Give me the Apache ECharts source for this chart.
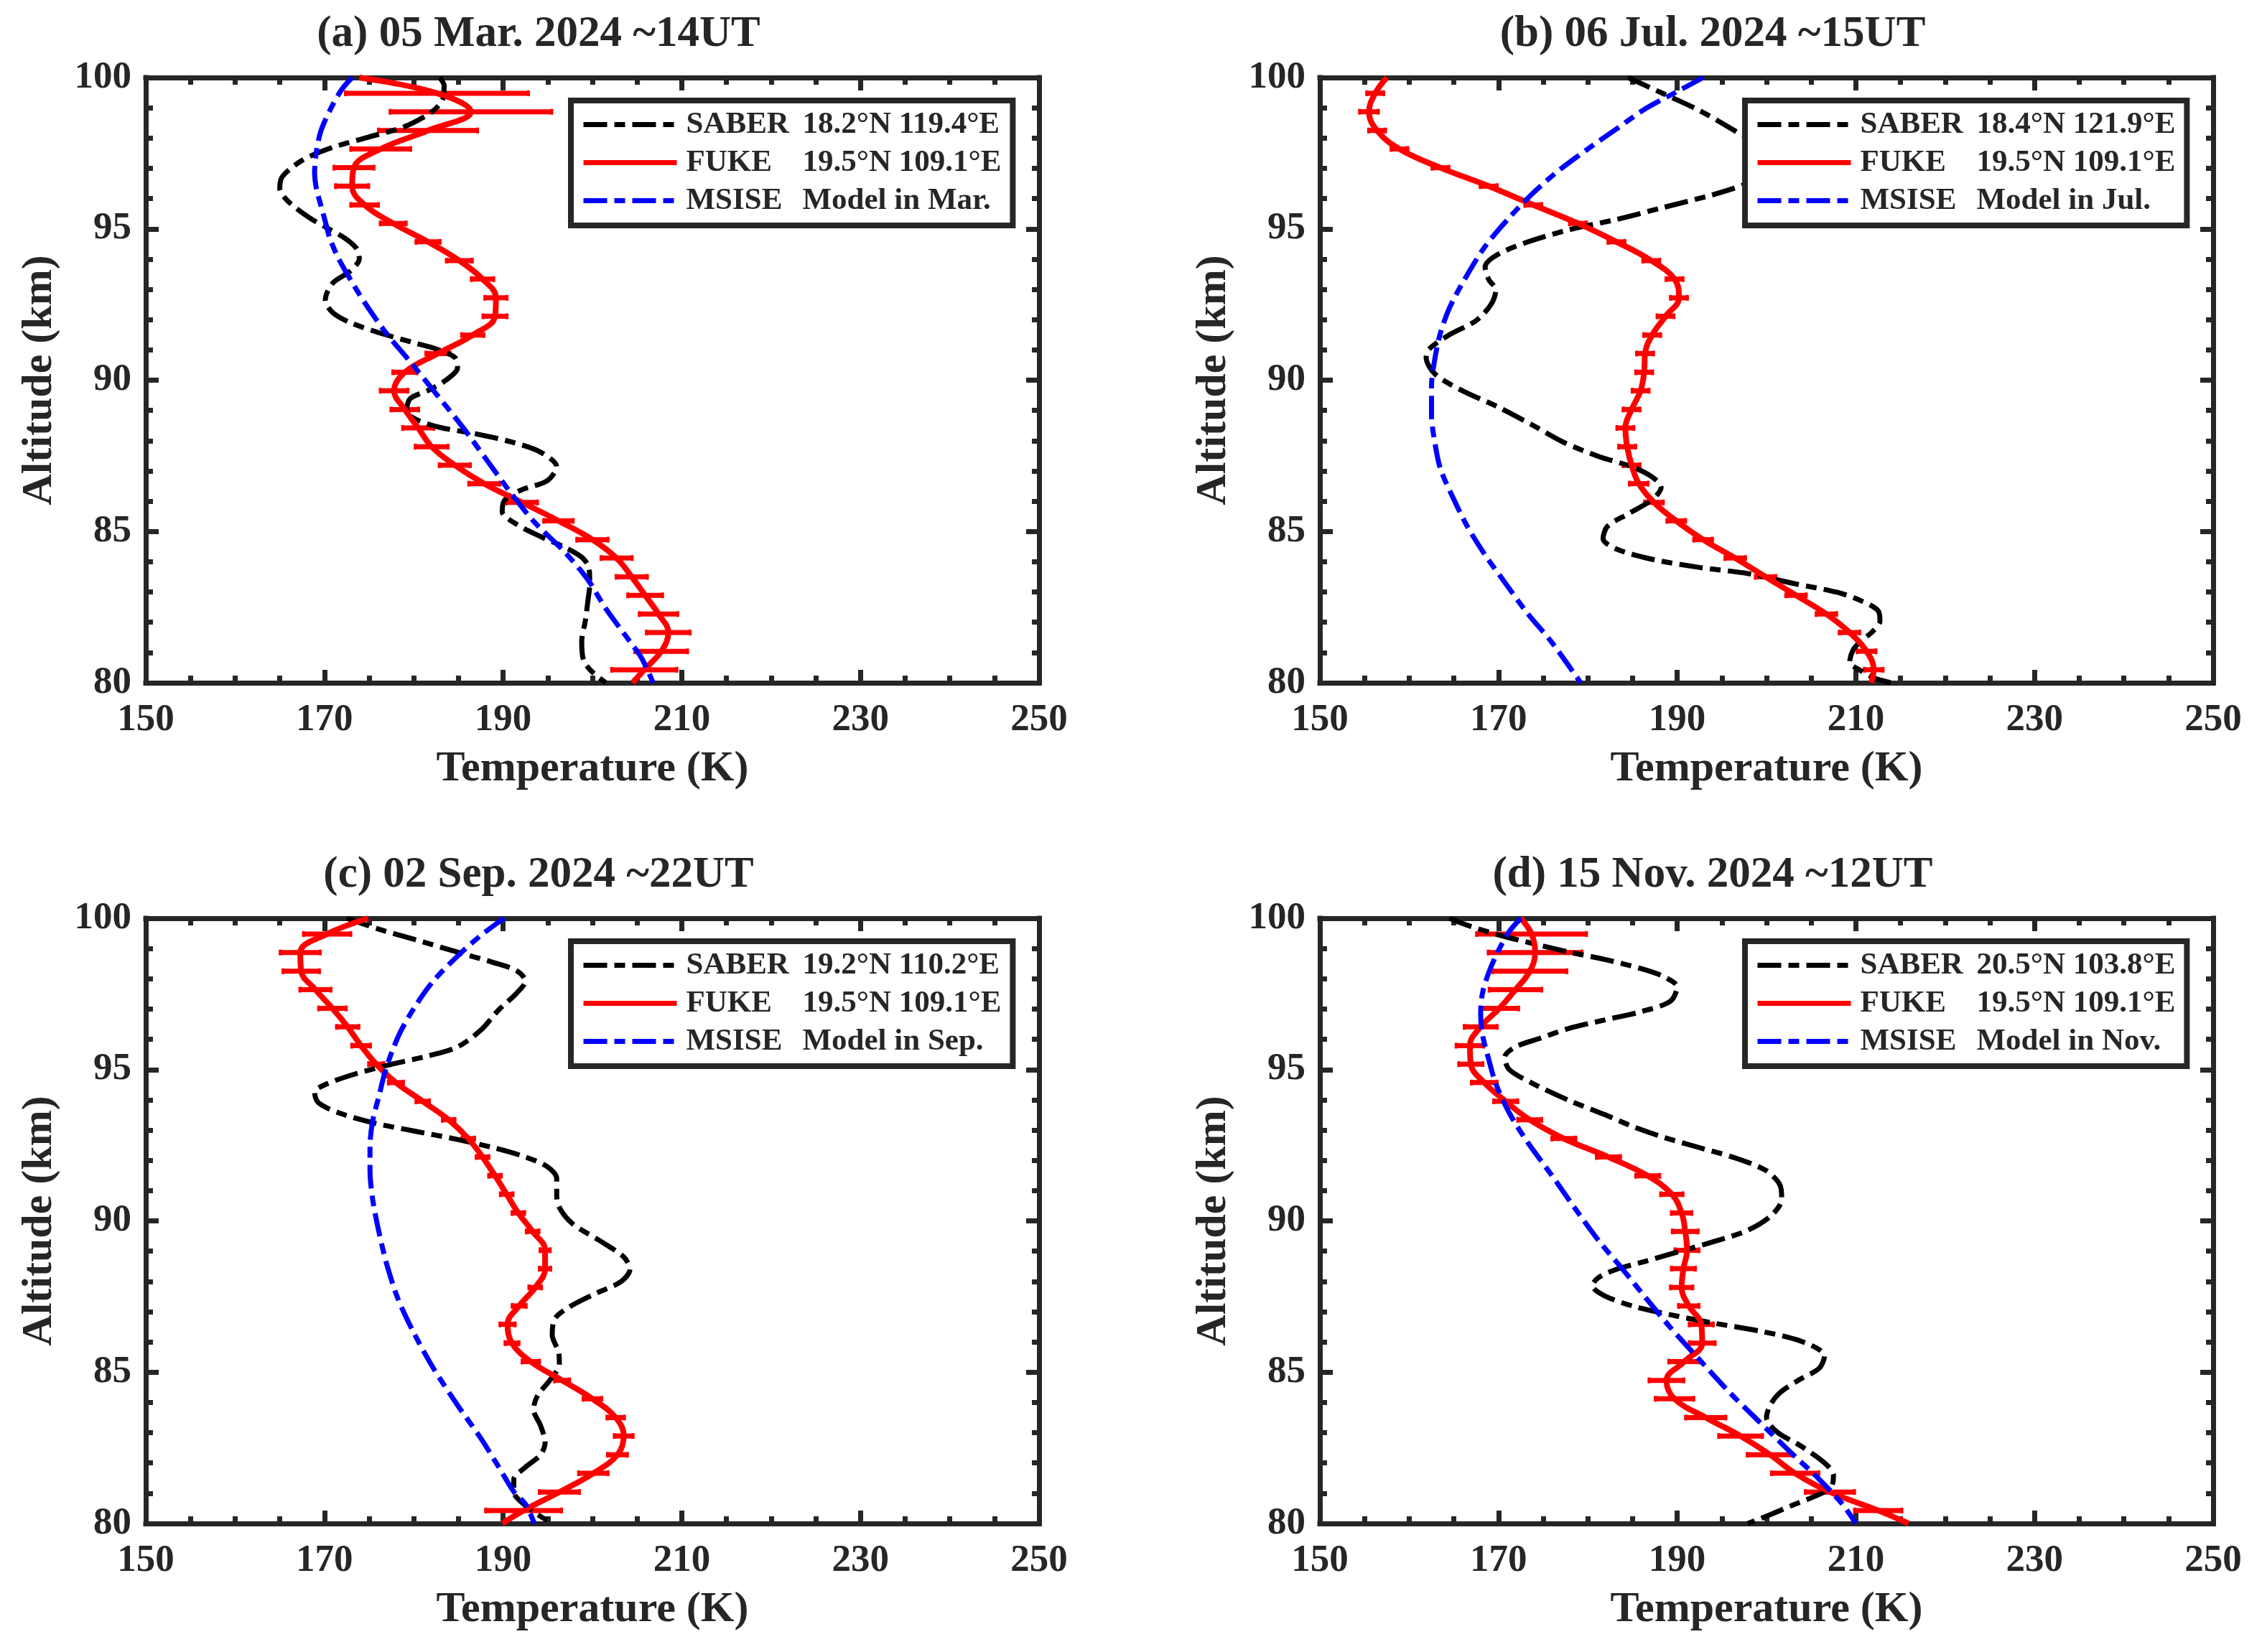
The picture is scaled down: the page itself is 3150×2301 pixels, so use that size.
<!DOCTYPE html>
<html><head><meta charset="utf-8">
<script src="https://cdn.jsdelivr.net/npm/echarts@6/dist/echarts.min.js"></script>
<style>html,body{margin:0;padding:0;background:#fff}#c{width:3150px;height:2301px}</style>
</head><body><div id="c"></div>
<script>
// ---------- data ----------
const X_TICKS = [150, 170, 190, 210, 230, 250];
const Y_TICKS = [80, 85, 90, 95, 100];
const TITLES = ['(a) 05 Mar. 2024 ~14UT', '(b) 06 Jul. 2024 ~15UT', '(c) 02 Sep. 2024 ~22UT', '(d) 15 Nov. 2024 ~12UT'];
const SABER_LOC = ['18.2°N 119.4°E', '18.4°N 121.9°E', '19.2°N 110.2°E', '20.5°N 103.8°E'];
const FUKE_LOC = '19.5°N 109.1°E';
const MSISE_MONTH = ['Mar.', 'Jul.', 'Sep.', 'Nov.'];

// FUKE lidar retrieval altitudes (km), bottom -> top
const FUKE_ALT = [80.43, 81.04, 81.66, 82.27, 82.89, 83.50, 84.12, 84.73, 85.35, 85.96, 86.58, 87.19, 87.80, 88.42, 89.03, 89.65,
  90.26, 90.88, 91.49, 92.11, 92.72, 93.34, 93.95, 94.57, 95.18, 95.79, 96.41, 97.02, 97.64, 98.25, 98.87, 99.48];
// FUKE temperatures (K), bottom -> top
const FUKE_T_A = [205.8, 207.7, 208.5, 207.4, 205.9, 204.4, 202.7, 200.0, 196.2, 192.1, 187.9, 184.6, 182.0, 180.5, 179.0, 177.8,
  179.0, 182.7, 186.6, 189.1, 189.2, 187.7, 185.1, 181.6, 177.7, 174.5, 173.1, 173.3, 176.3, 181.6, 186.4, 182.6];
const FUKE_T_B = [212.0, 211.2, 209.3, 206.7, 203.3, 199.9, 196.5, 192.9, 189.9, 187.4, 185.7, 184.9, 184.4, 184.2, 184.9, 185.9,
  186.3, 186.4, 187.2, 188.7, 190.2, 189.7, 187.1, 183.2, 178.9, 173.9, 168.9, 163.5, 158.9, 156.4, 155.5, 156.2];
const FUKE_T_C = [192.3, 196.3, 200.1, 202.8, 203.5, 202.6, 200.0, 196.6, 193.1, 191.0, 190.5, 191.8, 193.6, 194.7, 194.7, 193.3,
  191.7, 190.4, 189.1, 187.7, 186.1, 183.9, 181.0, 178.0, 175.8, 174.1, 172.6, 170.9, 169.0, 167.4, 167.3, 170.3];
const FUKE_T_D = [212.5, 207.1, 203.2, 200.4, 197.1, 193.2, 189.7, 188.8, 190.8, 192.8, 192.7, 191.3, 190.5, 190.7, 191.1, 190.9,
  190.5, 189.4, 186.7, 182.3, 177.3, 173.5, 170.8, 168.4, 166.9, 166.8, 168.0, 170.1, 171.9, 173.5, 174.1, 173.7];
// FUKE temperature errors (K), bottom -> top
const FUKE_E_A = [3.8, 3.1, 2.6, 2.3, 2.1, 1.9, 1.9, 1.9, 1.8, 1.9, 1.9, 1.9, 2.0, 1.9, 1.7, 1.7,
  1.5, 1.5, 1.4, 1.5, 1.4, 1.4, 1.6, 1.5, 1.6, 1.7, 2.0, 2.4, 3.5, 5.7, 9.2, 10.4];
const FUKE_E_B = [1.2, 1.2, 1.3, 1.3, 1.3, 1.3, 1.3, 1.2, 1.2, 1.2, 1.2, 1.1, 1.1, 1.1, 1.1, 1.1,
  1.1, 1.1, 1.1, 1.1, 1.1, 1.1, 1.1, 1.1, 1.1, 1.1, 1.1, 1.1, 1.1, 1.1, 1.2, 1.1];
const FUKE_E_C = [4.4, 2.4, 1.8, 1.26, 1.2, 1.13, 1.2, 1.0, 1.13, 0.93, 1.0, 0.93, 0.86, 0.8, 0.73, 0.86,
  0.86, 0.86, 0.86, 0.86, 0.86, 0.86, 0.9, 1.0, 1.0, 1.2, 1.4, 1.7, 1.9, 2.2, 2.4, 2.8];
const FUKE_E_D = [2.8, 2.9, 2.8, 2.7, 2.6, 2.4, 2.3, 2.1, 1.9, 1.6, 1.5, 1.3, 1.4, 1.5, 1.5, 1.6,
  1.3, 1.4, 1.5, 1.5, 1.5, 1.5, 1.5, 1.6, 1.5, 1.7, 2.0, 2.3, 3.1, 4.3, 5.4, 6.3];
// FUKE curve values at the plot edges [T at 80 km, T at 100 km]
const FUKE_EDGE = [[204.5, 173.9], [211.7, 157.5], [189.9, 174.9], [215.9, 172.5]];

// SABER profiles [T (K), altitude (km)], top -> bottom
const SABER_A = [[182.9,100.0],[183.4,99.73],[183.2,99.25],[181.9,98.84],[178.9,98.37],[174.9,98.03],[170.9,97.69],[167.6,97.28],[165.3,96.73],[165.0,96.33],[165.9,95.92],[168.3,95.37],[170.3,95.03],[172.3,94.69],[173.6,94.35],[173.9,94.01],[172.9,93.61],[170.9,93.20],[170.1,92.65],[170.9,92.24],[172.9,91.90],[176.2,91.56],[180.2,91.22],[182.6,91.02],[184.6,90.75],[184.9,90.41],[183.6,90.0],[181.6,89.66],[179.6,89.39],[179.2,88.98],[180.2,88.71],[182.9,88.44],[186.9,88.23],[190.9,87.96],[194.2,87.62],[196.0,87.14],[194.9,86.67],[192.2,86.39],[190.2,86.05],[189.9,85.65],[191.5,85.24],[194.2,84.83],[196.8,84.49],[198.8,84.15],[199.6,83.81],[199.7,83.27],[199.5,82.72],[199.2,82.04],[198.8,81.36],[199.0,80.75],[199.8,80.41],[201.5,80.0]];
const SABER_B = [[184.5,100],[188.5,99.46],[192.5,98.91],[196.5,98.23],[202.5,97.1],[197.5,96.46],[193.9,96.12],[188.5,95.71],[183.2,95.31],[177.9,94.97],[173.2,94.56],[169.9,94.15],[168.5,93.74],[168.9,93.33],[169.7,92.99],[169.2,92.52],[167.5,91.97],[164.5,91.5],[162.2,91.02],[161.9,90.75],[162.9,90.2],[165.9,89.66],[169.9,89.12],[173.9,88.5],[177.2,87.96],[181.2,87.48],[184.9,87.14],[187.2,86.8],[188.2,86.46],[187.2,86.05],[184.5,85.58],[182.2,85.17],[181.7,84.76],[183.2,84.42],[187.2,84.08],[192.5,83.81],[197.9,83.61],[203.2,83.27],[207.9,82.99],[210.5,82.72],[212.5,82.38],[212.7,82.04],[211.9,81.7],[210.5,81.36],[209.7,81.09],[209.3,80.68],[210.5,80.41],[212.2,80.14],[213.9,80.0]];
const SABER_C = [[172.5,100],[176.2,99.63],[180.2,99.29],[184.9,98.88],[188.9,98.54],[191.5,98.27],[192.5,97.93],[191.5,97.52],[189.5,96.97],[187.5,96.3],[184.9,95.75],[181.6,95.45],[177.6,95.18],[173.6,94.87],[170.3,94.53],[168.9,94.25],[169.3,93.91],[171.6,93.57],[175.6,93.23],[180.2,92.96],[184.9,92.69],[188.9,92.42],[192.2,92.14],[194.9,91.8],[196.0,91.4],[196.0,90.85],[196.3,90.44],[197.8,89.9],[200.8,89.35],[203.5,88.81],[204.2,88.4],[203.2,87.99],[200.2,87.58],[197.5,87.17],[195.8,86.77],[195.5,86.22],[196.2,85.68],[196.3,85.27],[195.2,84.72],[193.9,84.25],[193.4,83.77],[194.2,83.23],[194.7,82.68],[194.2,82.27],[192.5,81.86],[191.2,81.46],[191.2,81.05],[192.9,80.5],[195.5,80.0]];
const SABER_D = [[164.5,100],[166.5,99.77],[169.9,99.46],[173.9,99.16],[177.9,98.88],[181.9,98.64],[185.9,98.34],[188.5,98.07],[190.0,97.73],[189.2,97.25],[185.9,96.91],[181.9,96.64],[177.9,96.36],[174.5,96.02],[171.9,95.75],[170.7,95.41],[171.2,95.0],[173.9,94.53],[177.9,93.98],[181.9,93.51],[185.2,93.1],[188.5,92.76],[192.5,92.42],[196.5,92.08],[199.9,91.67],[201.5,91.19],[201.7,90.71],[200.5,90.17],[197.9,89.69],[194.5,89.35],[190.5,89.01],[186.5,88.67],[183.2,88.4],[181.2,88.13],[180.5,87.86],[181.9,87.52],[185.2,87.17],[189.2,86.9],[193.9,86.63],[199.2,86.36],[203.9,86.02],[206.5,85.54],[205.9,85.13],[203.5,84.72],[201.5,84.32],[200.4,83.91],[200.0,83.5],[201.2,83.02],[203.9,82.55],[206.5,82.0],[207.5,81.59],[207.2,81.18],[205.5,80.91],[203.2,80.64],[200.5,80.3],[197.9,80.0]];

// MSISE model profiles [T (K), altitude (km)], top -> bottom
const MSISE_A = [[173.1,100],[171.9,99.59],[170.6,98.91],[169.6,98.23],[169.1,97.55],[168.9,96.87],[169.1,96.33],[169.6,95.78],[170.1,95.24],[170.6,94.69],[171.6,94.01],[172.9,93.33],[174.6,92.52],[176.9,91.56],[179.6,90.61],[182.2,89.66],[185.5,88.44],[188.2,87.35],[190.9,86.26],[193.5,85.31],[196.8,84.35],[198.8,83.67],[199.8,83.27],[201.5,82.45],[204.2,81.36],[205.5,80.82],[206.8,80.0]];
const MSISE_B = [[192.9,100],[189.9,99.52],[186.5,98.98],[183.2,98.3],[179.9,97.62],[176.5,96.87],[173.9,96.19],[171.2,95.37],[168.5,94.42],[166.2,93.33],[164.5,92.38],[163.5,91.56],[162.9,90.75],[162.5,89.8],[162.5,88.84],[162.9,87.89],[163.5,87.07],[164.9,86.12],[166.5,85.17],[168.5,84.22],[170.5,83.4],[173.2,82.31],[175.9,81.36],[179.2,80.0]];
const MSISE_C = [[190.1,100],[187.5,99.43],[184.9,98.75],[182.2,97.93],[180.2,97.11],[178.6,96.3],[177.6,95.62],[176.8,94.94],[176.1,94.12],[175.4,93.3],[175.1,92.48],[175.1,91.67],[175.4,90.71],[176.1,89.63],[177.0,88.54],[178.2,87.45],[179.9,86.36],[182.2,85.13],[184.9,83.91],[187.5,82.82],[189.5,81.87],[191.2,81.05],[192.5,80.64],[193.5,80.0]];
const MSISE_D = [[172.5,100],[171.2,99.56],[169.9,98.88],[168.9,98.2],[168.2,97.52],[168.0,96.84],[168.2,96.16],[168.9,95.34],[169.7,94.53],[171.2,93.57],[173.2,92.62],[175.9,91.53],[178.5,90.44],[181.2,89.35],[183.9,88.4],[186.5,87.45],[189.2,86.49],[192.5,85.41],[195.9,84.32],[199.2,83.36],[202.5,82.41],[205.9,81.46],[208.5,80.64],[210.0,80.0]];

// ---------- assembly ----------
const FUKE_T = [FUKE_T_A, FUKE_T_B, FUKE_T_C, FUKE_T_D];
const FUKE_E = [FUKE_E_A, FUKE_E_B, FUKE_E_C, FUKE_E_D];
const SABER = [SABER_A, SABER_B, SABER_C, SABER_D];
const MSISE = [MSISE_A, MSISE_B, MSISE_C, MSISE_D];

const FONT = 'Liberation Serif';
const AX = '#262626';
const GRID_POS = [[203, 108], [1838, 108], [203, 1279], [1838, 1279]];
const GW = 1244, GH = 843;
const DASH = [33, 10, 15, 10];

const grids = [], xAxes = [], yAxes = [], series = [], legends = [], titles = [];

function errItem(params, api) {
  const T = api.value(0), h = api.value(1), e = api.value(2);
  const a = api.coord([T - e, h]), b = api.coord([T + e, h]);
  const cap = 4;
  const st = { stroke: '#ff0000', lineWidth: 7 };
  return { type: 'group', children: [
    { type: 'line', shape: { x1: a[0], y1: a[1], x2: b[0], y2: b[1] }, style: st },
    { type: 'line', shape: { x1: a[0] + 2, y1: a[1] - cap, x2: a[0] + 2, y2: a[1] + cap }, style: { stroke: '#ff0000', lineWidth: 4 } },
    { type: 'line', shape: { x1: b[0] - 2, y1: b[1] - cap, x2: b[0] - 2, y2: b[1] + cap }, style: { stroke: '#ff0000', lineWidth: 4 } }
  ]};
}

const tickCommon = (len) => ({ show: true, inside: true, length: len, lineStyle: { color: AX, width: 7 } });

for (let i = 0; i < 4; i++) {
  const [gl, gt] = GRID_POS[i];
  grids.push({ left: gl, top: gt, width: GW, height: GH, containLabel: false });
  const xBase = {
    type: 'value', gridIndex: i, min: X_TICKS[0], max: X_TICKS[X_TICKS.length - 1], interval: X_TICKS[1] - X_TICKS[0],
    axisLine: { show: true, onZero: false, lineStyle: { color: AX, width: 7, cap: 'square' } },
    axisTick: tickCommon(18), minorTick: { show: true, splitNumber: 4, length: 10, lineStyle: { color: AX, width: 7 } },
    splitLine: { show: false }, minorSplitLine: { show: false }
  };
  xAxes.push(Object.assign({}, xBase, {
    position: 'bottom', name: 'Temperature (K)', nameLocation: 'middle', nameGap: 90,
    nameTextStyle: { fontFamily: FONT, fontWeight: 'bold', fontSize: 60, color: AX },
    axisLabel: { show: true, margin: 26, fontFamily: FONT, fontWeight: 'bold', fontSize: 53, color: AX }
  }));
  xAxes.push(Object.assign({}, xBase, { position: 'top', axisLabel: { show: false } }));
  const yBase = {
    type: 'value', gridIndex: i, min: Y_TICKS[0], max: Y_TICKS[Y_TICKS.length - 1], interval: Y_TICKS[1] - Y_TICKS[0],
    axisLine: { show: true, onZero: false, lineStyle: { color: AX, width: 7, cap: 'square' } },
    axisTick: tickCommon(18), minorTick: { show: true, splitNumber: 5, length: 10, lineStyle: { color: AX, width: 7 } },
    splitLine: { show: false }, minorSplitLine: { show: false }
  };
  yAxes.push(Object.assign({}, yBase, {
    position: 'left', name: 'Altitude (km)', nameLocation: 'middle', nameGap: 118, nameRotate: 90,
    nameTextStyle: { fontFamily: FONT, fontWeight: 'bold', fontSize: 60, color: AX },
    axisLabel: { show: true, margin: 20, fontFamily: FONT, fontWeight: 'bold', fontSize: 53, color: AX }
  }));
  yAxes.push(Object.assign({}, yBase, { position: 'right', axisLabel: { show: false } }));

  const xi = 2 * i, yi = 2 * i;
  series.push({
    name: 'S' + i, type: 'line', xAxisIndex: xi, yAxisIndex: yi, data: SABER[i],
    symbol: 'none', smooth: 0.3, clip: true,
    lineStyle: { color: '#000000', width: 7, type: DASH }, itemStyle: { color: '#000000' }
  });
  const fukeLine = [[FUKE_EDGE[i][0], 80]];
  for (let k = 0; k < FUKE_ALT.length; k++) fukeLine.push([FUKE_T[i][k], FUKE_ALT[k]]);
  fukeLine.push([FUKE_EDGE[i][1], 100]);
  series.push({
    name: 'F' + i, type: 'line', xAxisIndex: xi, yAxisIndex: yi, data: fukeLine,
    symbol: 'none', smooth: 0.4, clip: true,
    lineStyle: { color: '#ff0000', width: 8, type: 'solid' }, itemStyle: { color: '#ff0000' }
  });
  const errData = FUKE_ALT.map((h, k) => [FUKE_T[i][k], h, FUKE_E[i][k]]);
  series.push({
    name: 'E' + i, type: 'custom', xAxisIndex: xi, yAxisIndex: yi, data: errData,
    renderItem: errItem, encode: { x: 0, y: 1 }, clip: true, silent: true
  });
  series.push({
    name: 'M' + i, type: 'line', xAxisIndex: xi, yAxisIndex: yi, data: MSISE[i],
    symbol: 'none', smooth: 0.3, clip: true,
    lineStyle: { color: '#0000ff', width: 7, type: DASH }, itemStyle: { color: '#0000ff' }
  });

  const rich = {
    k: { width: 162, padding: [0, 0, 0, 8], fontFamily: FONT, fontWeight: 'bold', fontSize: 43, color: AX },
    v: { fontFamily: FONT, fontWeight: 'bold', fontSize: 43, color: AX }
  };
  legends.push({
    orient: 'vertical', left: gl + 592, top: gt + 32,
    data: ['S' + i, 'F' + i, 'M' + i], selectedMode: false,
    backgroundColor: '#ffffff', borderColor: AX, borderWidth: 8, borderRadius: 0,
    padding: [12, 16, 13, 14], itemGap: 10, itemWidth: 130, itemHeight: 16,
    itemStyle: { opacity: 0 }, lineStyle: { width: 7 },
    textStyle: { fontFamily: FONT, fontWeight: 'bold', fontSize: 43, color: AX, lineHeight: 40, rich: rich },
    formatter: function (name) {
      const t = name[0];
      if (t === 'S') return '{k|SABER}{v|' + SABER_LOC[i] + '}';
      if (t === 'F') return '{k|FUKE}{v|' + FUKE_LOC + '}';
      return '{k|MSISE}{v|Model in ' + MSISE_MONTH[i] + '}';
    }
  });
  titles.push({
    text: TITLES[i], left: gl + GW / 2 - 80, top: gt - 95, textAlign: 'center',
    textStyle: { fontFamily: FONT, fontWeight: 'bold', fontSize: 61, color: AX }
  });
}

const chart = echarts.init(document.getElementById('c'), null, { renderer: 'canvas', width: 3150, height: 2301 });
chart.setOption({
  animation: false, backgroundColor: '#ffffff',
  title: titles, grid: grids, xAxis: xAxes, yAxis: yAxes, legend: legends, series: series
});
</script></body></html>
